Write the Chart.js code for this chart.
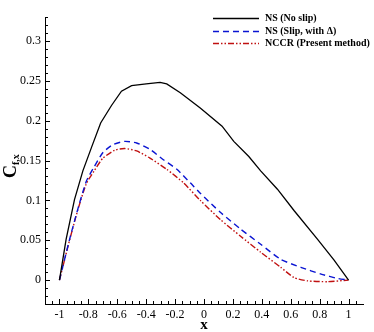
<!DOCTYPE html>
<html>
<head>
<meta charset="utf-8">
<script src="https://cdn.jsdelivr.net/npm/chart.js@4"></script>
<style>
  html, body { margin: 0; padding: 0; background: #fff; }
  canvas { display: block; }
</style>
</head>
<body>
<canvas id="chart" width="374" height="332"></canvas>
<script>
// Tick labels
const xTicks = [-1, -0.8, -0.6, -0.4, -0.2, 0, 0.2, 0.4, 0.6, 0.8, 1];
const yTicks = [0, 0.05, 0.1, 0.15, 0.2, 0.25, 0.3];

// Series names
const seriesNames = ["NS (No slip)", "NS (Slip, with \u0394)", "NCCR (Present method)"];

// NS (No slip)
const nsX = [-1, -0.954, -0.896, -0.838, -0.775, -0.715, -0.64, -0.571, -0.501, -0.4, -0.304, -0.258, -0.164, -0.026, 0.125, 0.206, 0.31, 0.392, 0.508, 0.624, 0.786, 0.9, 1];
const nsY = [0, 0.051, 0.101, 0.137, 0.168, 0.197, 0.219, 0.237, 0.244, 0.246, 0.248, 0.246, 0.235, 0.216, 0.193, 0.174, 0.155, 0.137, 0.114, 0.087, 0.051, 0.025, 0];

// NS (Slip, with Delta)
const slipX = [-1, -0.93, -0.873, -0.814, -0.76, -0.699, -0.629, -0.548, -0.466, -0.374, -0.281, -0.188, -0.095, -0.026, 0.113, 0.253, 0.392, 0.531, 0.67, 0.81, 0.926, 1];
const slipY = [0, 0.051, 0.089, 0.124, 0.142, 0.16, 0.17, 0.174, 0.172, 0.164, 0.151, 0.139, 0.122, 0.109, 0.085, 0.064, 0.045, 0.026, 0.016, 0.0075, 0.002, 0];

// NCCR (Present method)
const nccrX = [-1, -0.93, -0.873, -0.814, -0.76, -0.699, -0.617, -0.548, -0.466, -0.374, -0.258, -0.142, -0.026, 0.113, 0.253, 0.392, 0.531, 0.624, 0.717, 0.856, 1];
const nccrY = [0, 0.05, 0.088, 0.121, 0.137, 0.153, 0.163, 0.165, 0.162, 0.153, 0.139, 0.122, 0.1, 0.076, 0.055, 0.035, 0.016, 0.003, -0.001, -0.002, 0];

function toPoints(xs, ys) {
  return xs.map((x, i) => ({ x: x, y: ys[i] }));
}

const serif = "'Liberation Serif', 'DejaVu Serif', serif";

// inward ticks, minor ticks, axis titles and legend
const decorations = {
  id: "decorations",
  afterDraw(chart) {
    const ctx = chart.ctx;
    const xs = chart.scales.x;
    const ys = chart.scales.y;
    const area = chart.chartArea;
    ctx.save();
    ctx.strokeStyle = "#000";
    ctx.lineWidth = 1;
    ctx.beginPath();
    // x ticks every 0.05, major every 0.2
    for (let i = -22; i <= 22; i++) {
      const px = Math.round(xs.getPixelForValue(i * 0.05)) + 0.5;
      if (px < area.left || px > area.right) continue;
      const len = i % 4 === 0 ? 5 : 3;
      ctx.moveTo(px, area.bottom);
      ctx.lineTo(px, area.bottom - len);
    }
    // y ticks every 0.01, major every 0.05
    for (let j = -3; j <= 33; j++) {
      const py = Math.round(ys.getPixelForValue(j * 0.01)) + 0.5;
      if (py < area.top || py > area.bottom) continue;
      const len = j % 5 === 0 ? 5 : 3;
      ctx.moveTo(area.left, py);
      ctx.lineTo(area.left + len, py);
    }
    ctx.stroke();

    // axis titles
    ctx.fillStyle = "#000";
    ctx.font = "bold 15px " + serif;
    ctx.textAlign = "center";
    ctx.textBaseline = "alphabetic";
    ctx.fillText("x", xs.getPixelForValue(0), 329);

    ctx.translate(16, 166);
    ctx.rotate(-Math.PI / 2);
    ctx.textAlign = "left";
    ctx.font = "bold 18px " + serif;
    ctx.fillText("C", -12, 0);
    const cw = ctx.measureText("C").width;
    ctx.font = "bold 10px " + serif;
    ctx.fillText("f,x", -12 + cw, 3);
    ctx.setTransform(1, 0, 0, 1, 0, 0);

    // legend
    const rows = [18, 31, 43];
    chart.data.datasets.forEach((ds, k) => {
      const y = rows[k] + 0.5;
      ctx.beginPath();
      ctx.strokeStyle = ds.borderColor;
      ctx.lineWidth = ds.borderWidth;
      ctx.setLineDash(ds.borderDash || []);
      ctx.moveTo(213, y);
      ctx.lineTo(259, y);
      ctx.stroke();
      ctx.setLineDash([]);
      ctx.fillStyle = "#000";
      ctx.font = "bold 10px " + serif;
      ctx.textAlign = "left";
      ctx.textBaseline = "middle";
      ctx.fillText(ds.label, 265, y);
    });
    ctx.restore();
  }
};

const ctx = document.getElementById("chart").getContext("2d");
new Chart(ctx, {
  type: "scatter",
  data: {
    datasets: [
      {
        label: seriesNames[0],
        data: toPoints(nsX, nsY),
        showLine: true,
        borderColor: "#000000",
        borderWidth: 1.3,
        pointRadius: 0,
        tension: 0,
      },
      {
        label: seriesNames[1],
        data: toPoints(slipX, slipY),
        showLine: true,
        borderColor: "#0a14d2",
        borderWidth: 1.4,
        borderDash: [6, 4],
        pointRadius: 0,
        tension: 0.2,
      },
      {
        label: seriesNames[2],
        data: toPoints(nccrX, nccrY),
        showLine: true,
        borderColor: "#c01010",
        borderWidth: 1.4,
        borderDash: [6, 2, 1.5, 2, 1.5, 2],
        pointRadius: 0,
        tension: 0.2,
      },
    ],
  },
  options: {
    responsive: false,
    animation: false,
    layout: { padding: { top: 17, right: 11, left: 0, bottom: 0 } },
    plugins: {
      legend: { display: false },
      tooltip: { enabled: false },
    },
    scales: {
      x: {
        type: "linear",
        min: -1.1,
        max: 1.1,
        afterBuildTicks: (scale) => {
          scale.ticks = xTicks.map((v) => ({ value: v }));
        },
        afterFit: (scale) => {
          scale.height = 28;
        },
        grid: { display: false, drawTicks: false },
        border: { display: true, color: "#000", width: 1 },
        ticks: {
          color: "#000",
          padding: 4,
          font: { family: serif, size: 12 },
          maxRotation: 0,
          callback: (v) => String(v),
        },
      },
      y: {
        type: "linear",
        min: -0.03,
        max: 0.33,
        afterBuildTicks: (scale) => {
          scale.ticks = yTicks.map((v) => ({ value: v }));
        },
        afterFit: (scale) => {
          scale.width = 45;
        },
        grid: { display: false, drawTicks: false },
        border: { display: true, color: "#000", width: 1 },
        ticks: {
          color: "#000",
          padding: 4,
          font: { family: serif, size: 12 },
          callback: (v) => String(v),
        },
      },
    },
  },
  plugins: [decorations],
});
</script>
</body>
</html>
